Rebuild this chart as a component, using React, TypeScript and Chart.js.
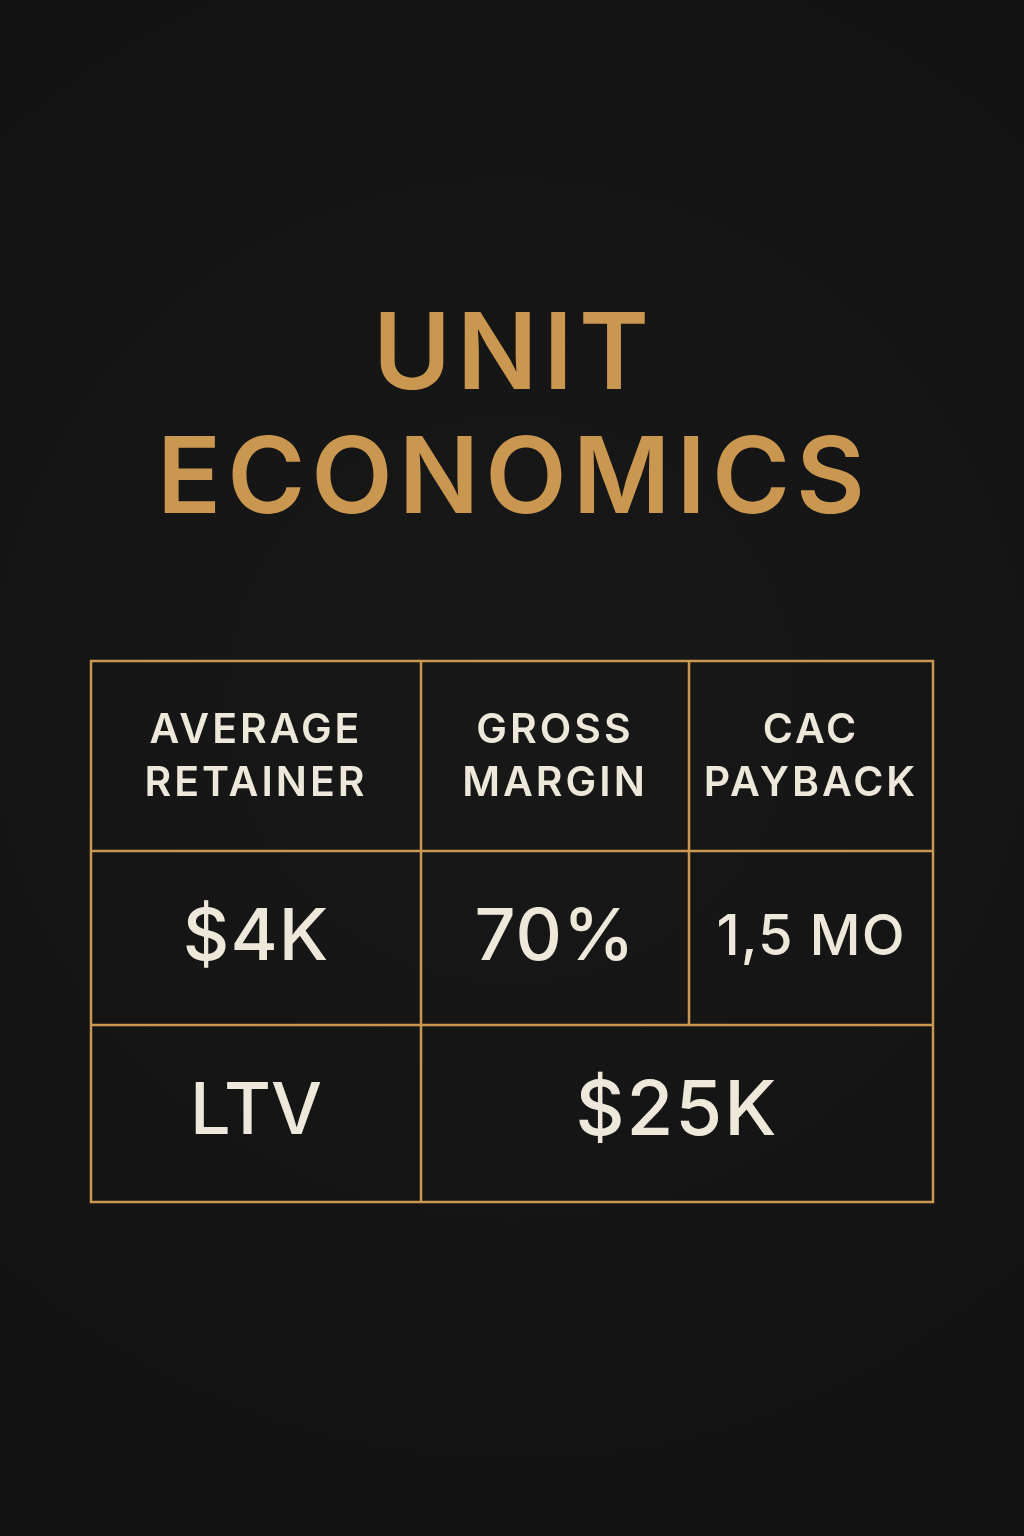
import React, { useEffect, useRef } from "react";
import { Chart, registerables } from "chart.js";
Chart.register(...registerables);

const titleLines = ["UNIT", "ECONOMICS"];
const headers = [["AVERAGE", "RETAINER"], ["GROSS", "MARGIN"], ["CAC", "PAYBACK"]];
const metricValues = ["$4K", "70%", "1,5 MO"];
const ltvLabel = "LTV";
const ltvValue = "$25K";

// layout (page coords)
const colEdges = [91, 421, 689, 933];
const rowEdges = [661, 851, 1025, 1202];
const GOLD = "#C9974F";
const CREAM = "#EEE8DA";

export default function App() {
  const ref = useRef<HTMLCanvasElement>(null);
  useEffect(() => {
    const plugin = {
      id: "table",
      beforeDraw(chart: any) {
        const { ctx } = chart;
        const xs = chart.scales.x, ys = chart.scales.y;
        const X = (v: number) => xs.getPixelForValue(v);
        const Y = (v: number) => ys.getPixelForValue(v);
        ctx.save();
        const g = ctx.createRadialGradient(X(512), Y(700), 50, X(512), Y(700), 1000);
        g.addColorStop(0, "#181818");
        g.addColorStop(1, "#111111");
        ctx.fillStyle = g;
        ctx.fillRect(0, 0, chart.width, chart.height);
        ctx.textAlign = "center";
        ctx.textBaseline = "middle";
        const text = (s: string, x: number, y: number, font: string, color: string, ls: string) => {
          ctx.font = font;
          ctx.fillStyle = color;
          (ctx as any).letterSpacing = ls;
          ctx.fillText(s, X(x), Y(y));
        };
        text(titleLines[0], 514, 357, "600 106px Inter", GOLD, "6px");
        text(titleLines[1], 514, 481, "600 106px Inter", GOLD, "6px");
        ctx.strokeStyle = GOLD;
        ctx.lineWidth = 2.5;
        ctx.strokeRect(X(colEdges[0]), Y(rowEdges[0]), X(colEdges[3]) - X(colEdges[0]), Y(rowEdges[3]) - Y(rowEdges[0]));
        ctx.beginPath();
        [1, 2].forEach((r) => { ctx.moveTo(X(colEdges[0]), Y(rowEdges[r])); ctx.lineTo(X(colEdges[3]), Y(rowEdges[r])); });
        ctx.moveTo(X(colEdges[1]), Y(rowEdges[0])); ctx.lineTo(X(colEdges[1]), Y(rowEdges[3]));
        ctx.moveTo(X(colEdges[2]), Y(rowEdges[0])); ctx.lineTo(X(colEdges[2]), Y(rowEdges[2]));
        ctx.stroke();
        for (let c = 0; c < 3; c++) {
          const cx = (colEdges[c] + colEdges[c + 1]) / 2;
          text(headers[c][0], cx, 731, "600 41px Inter", CREAM, "3px");
          text(headers[c][1], cx, 784, "600 41px Inter", CREAM, "3px");
          const size = metricValues[c].length > 4 ? 56 : 72;
          text(metricValues[c], cx, 938, `500 ${size}px Inter`, CREAM, "1px");
        }
        text(ltvLabel, (colEdges[0] + colEdges[1]) / 2, 1112, "500 72px Inter", CREAM, "0px");
        text(ltvValue, (colEdges[1] + colEdges[3]) / 2, 1112, "500 76px Inter", CREAM, "2px");
        ctx.restore();
      },
    };
    const chart = new Chart(ref.current!, {
      type: "scatter",
      data: { datasets: [{ data: [] }] },
      options: {
        animation: false,
        responsive: false,
        layout: { padding: 0 },
        plugins: { legend: { display: false }, tooltip: { enabled: false } },
        scales: {
          x: { type: "linear", min: 0, max: 1024, display: false },
          y: { type: "linear", min: 0, max: 1536, reverse: true, display: false },
        },
      },
      plugins: [plugin],
    });
    return () => chart.destroy();
  }, []);
  return (
    <div style={{ position: "absolute", left: 0, top: 0, width: 1024, height: 1536 }}>
      <canvas ref={ref} width={1024} height={1536} style={{ width: 1024, height: 1536 }} />
    </div>
  );
}
